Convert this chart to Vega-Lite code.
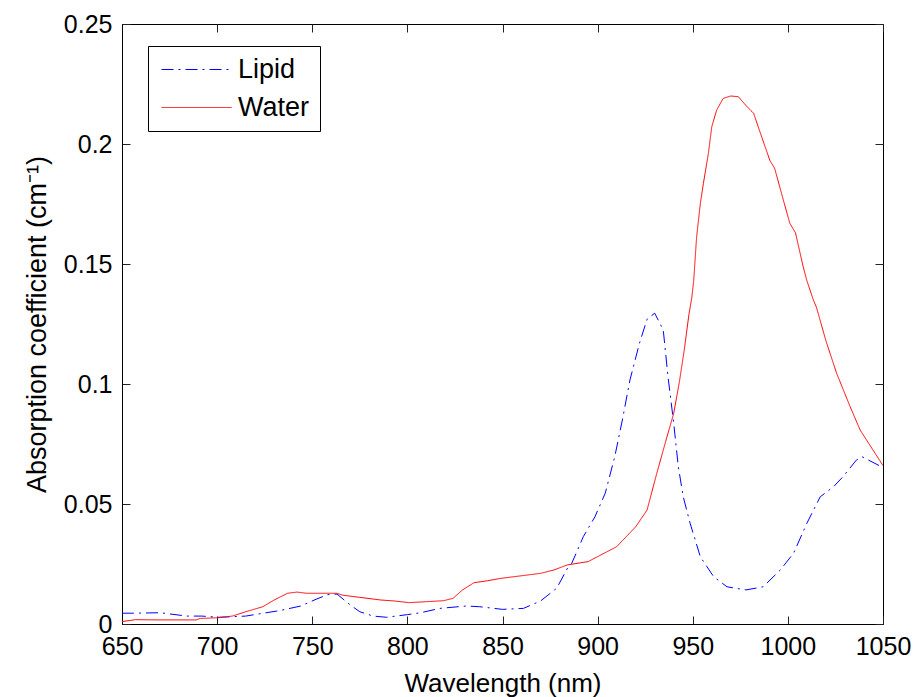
{
  "$schema": "https://vega.github.io/schema/vega-lite/v6.json",
  "width": 761,
  "height": 600,
  "autosize": {"type": "none"},
  "padding": {"left": 122, "top": 24, "right": 35, "bottom": 73},
  "background": "white",
  "config": {
    "view": {"stroke": "black", "strokeWidth": 1},
    "font": "Liberation Sans",
    "axis": {
      "grid": false,
      "domainColor": "black",
      "tickColor": "#222222",
      "tickSize": -8,
      "labelFont": "Liberation Sans",
      "labelFontSize": 25,
      "labelColor": "black",
      "titleFont": "Liberation Sans",
      "titleFontSize": 26,
      "titleFontWeight": "normal",
      "titleColor": "black"
    }
  },
  "data": {
    "values": [
      {"wavelength": 650, "value": 0.0045, "series": "Lipid"},
      {"wavelength": 656, "value": 0.0045, "series": "Lipid"},
      {"wavelength": 670, "value": 0.0047, "series": "Lipid"},
      {"wavelength": 684, "value": 0.0033, "series": "Lipid"},
      {"wavelength": 692, "value": 0.0033, "series": "Lipid"},
      {"wavelength": 701, "value": 0.0028, "series": "Lipid"},
      {"wavelength": 715, "value": 0.0033, "series": "Lipid"},
      {"wavelength": 722, "value": 0.0042, "series": "Lipid"},
      {"wavelength": 733, "value": 0.0056, "series": "Lipid"},
      {"wavelength": 744, "value": 0.0075, "series": "Lipid"},
      {"wavelength": 752, "value": 0.0103, "series": "Lipid"},
      {"wavelength": 758, "value": 0.0122, "series": "Lipid"},
      {"wavelength": 763, "value": 0.0125, "series": "Lipid"},
      {"wavelength": 770, "value": 0.0079, "series": "Lipid"},
      {"wavelength": 775, "value": 0.0051, "series": "Lipid"},
      {"wavelength": 782, "value": 0.0033, "series": "Lipid"},
      {"wavelength": 789, "value": 0.0028, "series": "Lipid"},
      {"wavelength": 800, "value": 0.0039, "series": "Lipid"},
      {"wavelength": 807, "value": 0.0047, "series": "Lipid"},
      {"wavelength": 817, "value": 0.0065, "series": "Lipid"},
      {"wavelength": 831, "value": 0.0075, "series": "Lipid"},
      {"wavelength": 838, "value": 0.0072, "series": "Lipid"},
      {"wavelength": 850, "value": 0.0061, "series": "Lipid"},
      {"wavelength": 861, "value": 0.0065, "series": "Lipid"},
      {"wavelength": 870, "value": 0.0096, "series": "Lipid"},
      {"wavelength": 878.5, "value": 0.0149, "series": "Lipid"},
      {"wavelength": 884.6, "value": 0.0239, "series": "Lipid"},
      {"wavelength": 886.4, "value": 0.0253, "series": "Lipid"},
      {"wavelength": 892.5, "value": 0.0364, "series": "Lipid"},
      {"wavelength": 898.6, "value": 0.0447, "series": "Lipid"},
      {"wavelength": 904, "value": 0.0545, "series": "Lipid"},
      {"wavelength": 909, "value": 0.0697, "series": "Lipid"},
      {"wavelength": 913, "value": 0.085, "series": "Lipid"},
      {"wavelength": 917, "value": 0.1017, "series": "Lipid"},
      {"wavelength": 922, "value": 0.117, "series": "Lipid"},
      {"wavelength": 926, "value": 0.127, "series": "Lipid"},
      {"wavelength": 930, "value": 0.1295, "series": "Lipid"},
      {"wavelength": 934.5, "value": 0.1225, "series": "Lipid"},
      {"wavelength": 937, "value": 0.103, "series": "Lipid"},
      {"wavelength": 940, "value": 0.0836, "series": "Lipid"},
      {"wavelength": 942.4, "value": 0.0656, "series": "Lipid"},
      {"wavelength": 945, "value": 0.053, "series": "Lipid"},
      {"wavelength": 948.6, "value": 0.042, "series": "Lipid"},
      {"wavelength": 954, "value": 0.028, "series": "Lipid"},
      {"wavelength": 961, "value": 0.0197, "series": "Lipid"},
      {"wavelength": 968, "value": 0.0155, "series": "Lipid"},
      {"wavelength": 978, "value": 0.0142, "series": "Lipid"},
      {"wavelength": 987, "value": 0.0155, "series": "Lipid"},
      {"wavelength": 996, "value": 0.0225, "series": "Lipid"},
      {"wavelength": 1003, "value": 0.0295, "series": "Lipid"},
      {"wavelength": 1010, "value": 0.042, "series": "Lipid"},
      {"wavelength": 1017, "value": 0.053, "series": "Lipid"},
      {"wavelength": 1024, "value": 0.0572, "series": "Lipid"},
      {"wavelength": 1029, "value": 0.0614, "series": "Lipid"},
      {"wavelength": 1036, "value": 0.0683, "series": "Lipid"},
      {"wavelength": 1039, "value": 0.0697, "series": "Lipid"},
      {"wavelength": 1048, "value": 0.066, "series": "Lipid"},
      {"wavelength": 1050, "value": 0.0655, "series": "Lipid"},
      {"wavelength": 650, "value": 0.001, "series": "Water"},
      {"wavelength": 657, "value": 0.0018, "series": "Water"},
      {"wavelength": 670, "value": 0.0017, "series": "Water"},
      {"wavelength": 689, "value": 0.0017, "series": "Water"},
      {"wavelength": 691, "value": 0.0023, "series": "Water"},
      {"wavelength": 700, "value": 0.0026, "series": "Water"},
      {"wavelength": 708, "value": 0.0033, "series": "Water"},
      {"wavelength": 715, "value": 0.0051, "series": "Water"},
      {"wavelength": 724, "value": 0.0072, "series": "Water"},
      {"wavelength": 730, "value": 0.01, "series": "Water"},
      {"wavelength": 737, "value": 0.0128, "series": "Water"},
      {"wavelength": 742, "value": 0.0133, "series": "Water"},
      {"wavelength": 747, "value": 0.0128, "series": "Water"},
      {"wavelength": 763, "value": 0.0128, "series": "Water"},
      {"wavelength": 766, "value": 0.012, "series": "Water"},
      {"wavelength": 775, "value": 0.0111, "series": "Water"},
      {"wavelength": 786, "value": 0.01, "series": "Water"},
      {"wavelength": 793, "value": 0.0096, "series": "Water"},
      {"wavelength": 801, "value": 0.0089, "series": "Water"},
      {"wavelength": 810, "value": 0.0093, "series": "Water"},
      {"wavelength": 819, "value": 0.0097, "series": "Water"},
      {"wavelength": 824, "value": 0.0107, "series": "Water"},
      {"wavelength": 829, "value": 0.0142, "series": "Water"},
      {"wavelength": 835, "value": 0.0172, "series": "Water"},
      {"wavelength": 842, "value": 0.018, "series": "Water"},
      {"wavelength": 849, "value": 0.019, "series": "Water"},
      {"wavelength": 859, "value": 0.02, "series": "Water"},
      {"wavelength": 870, "value": 0.0211, "series": "Water"},
      {"wavelength": 877, "value": 0.0225, "series": "Water"},
      {"wavelength": 884, "value": 0.0246, "series": "Water"},
      {"wavelength": 895, "value": 0.026, "series": "Water"},
      {"wavelength": 910, "value": 0.0322, "series": "Water"},
      {"wavelength": 920, "value": 0.0405, "series": "Water"},
      {"wavelength": 926, "value": 0.0475, "series": "Water"},
      {"wavelength": 931, "value": 0.0625, "series": "Water"},
      {"wavelength": 936, "value": 0.0767, "series": "Water"},
      {"wavelength": 940, "value": 0.0878, "series": "Water"},
      {"wavelength": 943, "value": 0.101, "series": "Water"},
      {"wavelength": 945.5, "value": 0.114, "series": "Water"},
      {"wavelength": 948, "value": 0.129, "series": "Water"},
      {"wavelength": 949.5, "value": 0.136, "series": "Water"},
      {"wavelength": 950.5, "value": 0.143, "series": "Water"},
      {"wavelength": 952, "value": 0.161, "series": "Water"},
      {"wavelength": 954, "value": 0.1753, "series": "Water"},
      {"wavelength": 955.6, "value": 0.1836, "series": "Water"},
      {"wavelength": 958.2, "value": 0.196, "series": "Water"},
      {"wavelength": 960, "value": 0.2072, "series": "Water"},
      {"wavelength": 962.6, "value": 0.2142, "series": "Water"},
      {"wavelength": 966, "value": 0.219, "series": "Water"},
      {"wavelength": 970, "value": 0.22, "series": "Water"},
      {"wavelength": 974, "value": 0.2197, "series": "Water"},
      {"wavelength": 978, "value": 0.216, "series": "Water"},
      {"wavelength": 982, "value": 0.2128, "series": "Water"},
      {"wavelength": 985, "value": 0.2058, "series": "Water"},
      {"wavelength": 990.6, "value": 0.193, "series": "Water"},
      {"wavelength": 993, "value": 0.19, "series": "Water"},
      {"wavelength": 997.6, "value": 0.1767, "series": "Water"},
      {"wavelength": 1001, "value": 0.167, "series": "Water"},
      {"wavelength": 1004, "value": 0.163, "series": "Water"},
      {"wavelength": 1008, "value": 0.149, "series": "Water"},
      {"wavelength": 1010, "value": 0.143, "series": "Water"},
      {"wavelength": 1013.4, "value": 0.135, "series": "Water"},
      {"wavelength": 1015, "value": 0.132, "series": "Water"},
      {"wavelength": 1020, "value": 0.118, "series": "Water"},
      {"wavelength": 1025.6, "value": 0.1045, "series": "Water"},
      {"wavelength": 1032.7, "value": 0.0906, "series": "Water"},
      {"wavelength": 1038, "value": 0.0808, "series": "Water"},
      {"wavelength": 1050, "value": 0.066, "series": "Water"}
    ]
  },
  "layer": [
    {
      "mark": {"type": "line", "strokeWidth": 1, "clip": true},
      "encoding": {
        "x": {
          "field": "wavelength", "type": "quantitative",
          "scale": {"domain": [650, 1050], "nice": false, "zero": false},
          "axis": {"title": "Wavelength (nm)", "values": [650, 700, 750, 800, 850, 900, 950, 1000, 1050], "format": "d", "labelPadding": 18, "titlePadding": 11, "labelFlush": false}
        },
        "y": {
          "field": "value", "type": "quantitative",
          "scale": {"domain": [0, 0.25], "nice": false},
          "axis": {"title": "Absorption coefficient (cm⁻¹)", "titleFontSize": 27, "values": [0, 0.05, 0.1, 0.15, 0.2, 0.25], "format": ".2~f", "labelPadding": 18, "titlePadding": 12}
        },
        "color": {
          "field": "series", "type": "nominal",
          "scale": {"domain": ["Lipid", "Water"], "range": ["#0000ff", "#ff0000"]},
          "legend": {
            "title": null, "orient": "none", "legendX": 26, "legendY": 22,
            "strokeColor": "black", "fillColor": "white",
            "padding": 10, "symbolType": "M-3.5,0H3.5", "symbolSize": 400,
            "symbolStrokeWidth": 1, "symbolOffset": 25, "labelFontSize": 27, "labelFont": "Liberation Sans",
            "labelColor": "black", "rowPadding": 10, "labelOffset": 28
          }
        },
        "strokeDash": {
          "field": "series", "type": "nominal",
          "scale": {"domain": ["Lipid", "Water"], "range": [[12, 5, 2, 5], [1, 0]]},
          "legend": null
        },
        "order": {"field": "wavelength", "type": "quantitative"}
      }
    },
    {
      "mark": {"type": "point", "opacity": 0},
      "encoding": {
        "x": {
          "field": "wavelength", "type": "quantitative",
          "axis": {"orient": "top", "labels": false, "title": null, "domain": false, "values": [650, 700, 750, 800, 850, 900, 950, 1000, 1050]}
        },
        "y": {
          "field": "value", "type": "quantitative",
          "axis": {"orient": "right", "labels": false, "title": null, "domain": false, "values": [0, 0.05, 0.1, 0.15, 0.2, 0.25]}
        }
      }
    }
  ],
  "resolve": {"axis": {"x": "independent", "y": "independent"}}
}
